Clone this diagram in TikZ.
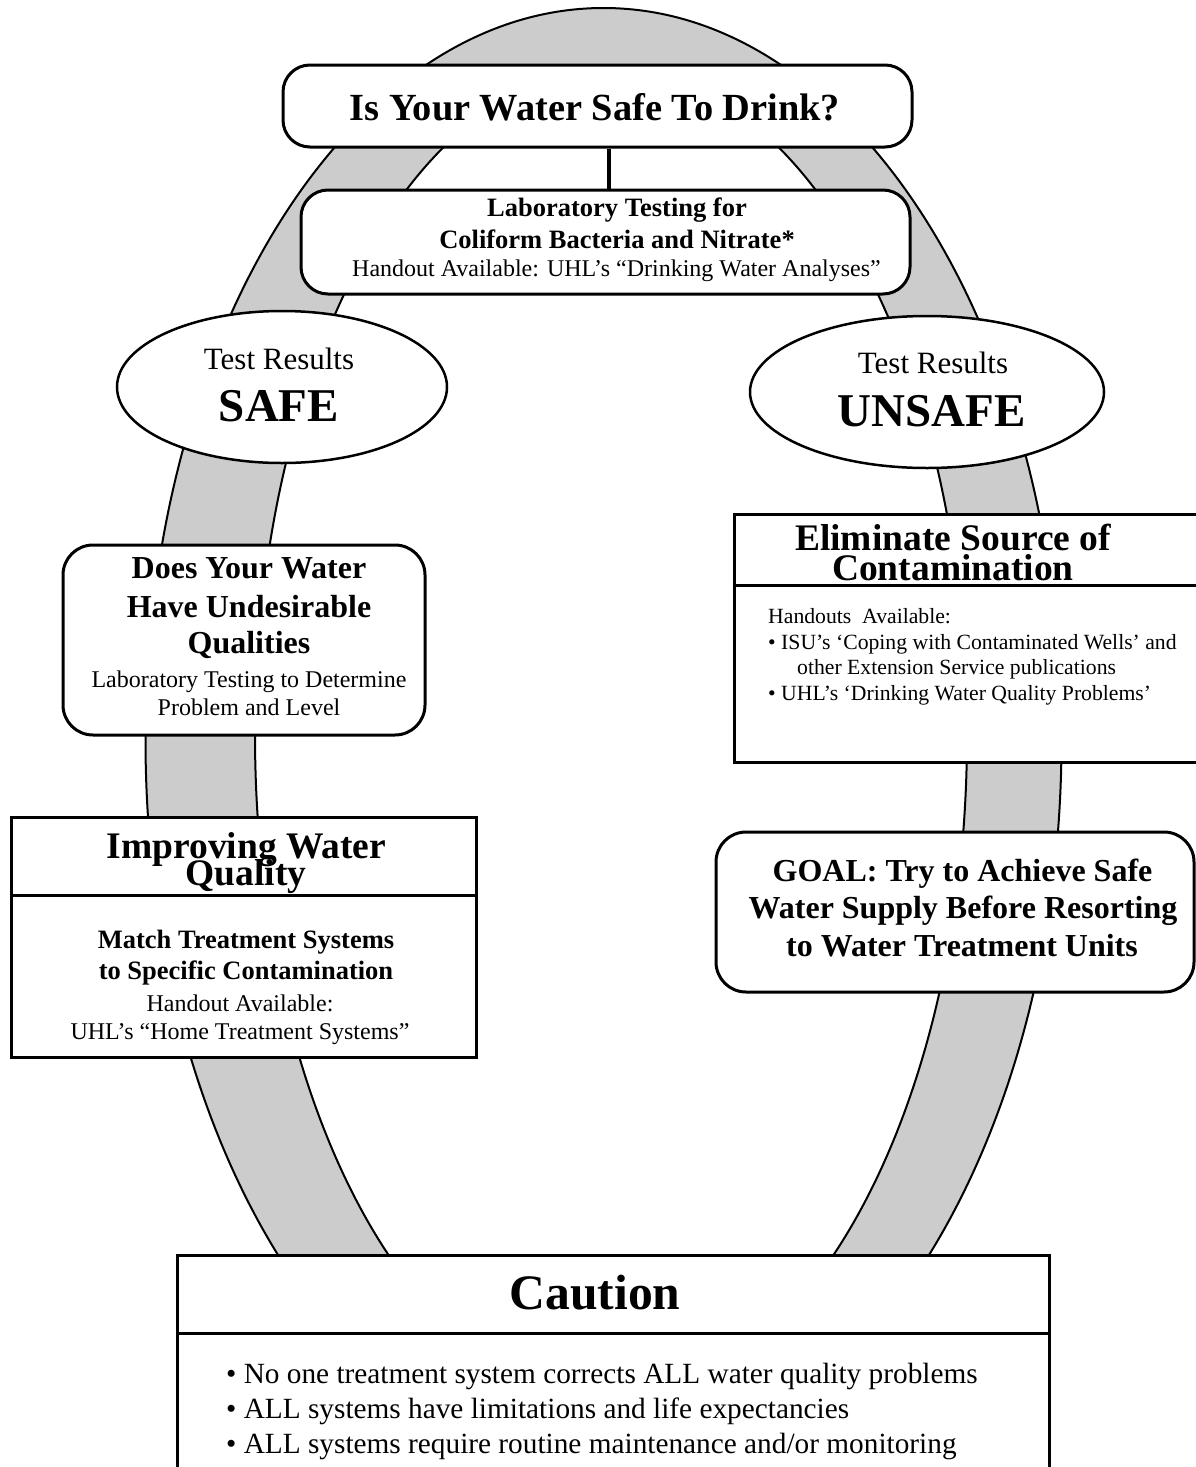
\documentclass[tikz,border=0pt]{standalone}
\usepackage{fontspec}
\setmainfont{Liberation Serif}
\usetikzlibrary{shapes.geometric}
\definecolor{ringgray}{RGB}{204,204,204}
\newcommand{\fsz}[1]{\fontsize{#1}{#1}\selectfont}
\tikzset{
  rbox/.style={draw, fill=white, line width=3pt, rounded corners=27pt, inner sep=0pt},
  sbox/.style={draw, fill=white, line width=3pt, inner sep=0pt},
  obox/.style={ellipse, draw, fill=white, line width=2.5pt, inner sep=0pt},
  txt/.style={anchor=base, inner sep=0pt},
  txtl/.style={anchor=base west, inner sep=0pt},
  ringline/.style={line width=2pt},
  divider/.style={line width=3pt},
  conn/.style={line width=4.5pt},
  bighead/.style={font=\bfseries\fsz{37.5}},
  midhead/.style={font=\bfseries\fsz{32}},
  subhead/.style={font=\bfseries\fsz{26.5}},
  body/.style={font=\fsz{24}},
  small/.style={font=\fsz{21.7}},
  result/.style={font=\fsz{31}},
  verdict/.style={font=\bfseries\fsz{47}},
  bullet/.style={font=\fsz{29.3}},
}
\begin{document}
\begin{tikzpicture}[x=1pt,y=-1pt]
\useasboundingbox (0,0) rectangle (1196,1467);
% ring
\fill[ringgray, even odd rule] (603.5,740) ellipse [x radius=458, y radius=732]
  (611,735) ellipse [x radius=356, y radius=666];
\draw[ringline] (603.5,740) ellipse [x radius=458, y radius=732];
\draw[ringline] (611,735) ellipse [x radius=356, y radius=666];

% title
\node[rbox, minimum width=629pt, minimum height=82pt] (title) at (597.5,106) {};
\node[txt, font=\bfseries\fsz{38.4}] (titletxt) at (595,120) {Is Your Water Safe To Drink?};

% lab
\node[rbox, minimum width=609pt, minimum height=104pt] (lab) at (605.5,242) {};
\node[txt, subhead] (lab1) at (617,216.7) {Laboratory Testing for};
\node[txt, subhead] (lab2) at (617,248) {Coliform Bacteria and Nitrate*};
\node[txt, body] (lab3) at (616.5,276.7) {Handout Available: UHL’s “Drinking Water Analyses”};
\coordinate (cx) at (609,0);
\draw[conn] (title.south -| cx) -- (lab.north -| cx);

% SAFE
\node[obox, minimum width=330pt, minimum height=152pt] (safe) at (282,387) {};
\node[txt, result] (safe1) at (279,369) {Test Results};
\node[txt, verdict] (safe2) at (279,421) {SAFE};

% UNSAFE
\node[obox, minimum width=354pt, minimum height=152pt] (unsafe) at (927,392) {};
\node[txt, result] (unsafe1) at (933,373) {Test Results};
\node[txt, verdict] (unsafe2) at (932,426) {UNSAFE};

% Does your water
\node[rbox, rounded corners=30pt, minimum width=362pt, minimum height=190pt] (does) at (244,640) {};
\node[txt, midhead] (does1) at (249,578) {Does Your Water};
\node[txt, midhead] (does2) at (249,617) {Have Undesirable};
\node[txt, midhead] (does3) at (249,653) {Qualities};
\node[txt, body] (does4) at (249,687) {Laboratory Testing to Determine};
\node[txt, body] (does5) at (249,715) {Problem and Level};

% Eliminate
\node[sbox, minimum width=476pt, minimum height=248pt] (elim) at (972,638) {};
\draw[divider] ([yshift=-73pt]elim.north west) -- ([yshift=-73pt]elim.north east);
\node[txt, bighead] (elim1) at (953,550) {Eliminate Source of};
\node[txt, bighead] (elim2) at (953,580) {Contamination};
\node[txtl, small] (elim3) at (768,623) {Handouts\ \ Available:};
\node[txtl, small] (elim4) at (768,649) {• ISU’s ‘Coping with Contaminated Wells’ and};
\node[txtl, small] (elim5) at (797,674) {other Extension Service publications};
\node[txtl, small] (elim6) at (768,700) {• UHL’s ‘Drinking Water Quality Problems’};

% Improving
\node[sbox, minimum width=465pt, minimum height=240pt] (impr) at (243.5,937) {};
\draw[divider] ([yshift=-80pt]impr.north west) -- ([yshift=-80pt]impr.north east);
\node[txt, bighead] (impr1) at (246.5,858) {Improving Water};
\node[txt, bighead] (impr2) at (246,885) {Quality};
\node[txt, subhead] (impr3) at (246,948) {Match Treatment Systems};
\node[txt, subhead] (impr4) at (246,979) {to Specific Contamination};
\node[txt, body] (impr5) at (240,1011) {Handout Available:};
\node[txt, body] (impr6) at (240,1039) {UHL’s “Home Treatment Systems”};

% GOAL
\node[rbox, rounded corners=30pt, minimum width=478pt, minimum height=160pt] (goal) at (955,912) {};
\node[txt, midhead] (goal1) at (962.5,881) {GOAL: Try to Achieve Safe};
\node[txt, midhead] (goal2) at (963,918) {Water Supply Before Resorting};
\node[txt, midhead] (goal3) at (962,956) {to Water Treatment Units};

% Caution
\node[sbox, minimum width=872pt, minimum height=230pt] (caut) at (613,1370) {};
\draw[divider] ([yshift=-80pt]caut.north west) -- ([yshift=-80pt]caut.north east);
\node[txt, font=\bfseries\fsz{49.6}] (caut1) at (595,1309) {Caution};
\node[txtl, bullet] (caut2) at (226,1383) {• No one treatment system corrects ALL water quality problems};
\node[txtl, bullet] (caut3) at (226,1418) {• ALL systems have limitations and life expectancies};
\node[txtl, bullet] (caut4) at (226,1453) {• ALL systems require routine maintenance and/or monitoring};
\end{tikzpicture}
\end{document}
